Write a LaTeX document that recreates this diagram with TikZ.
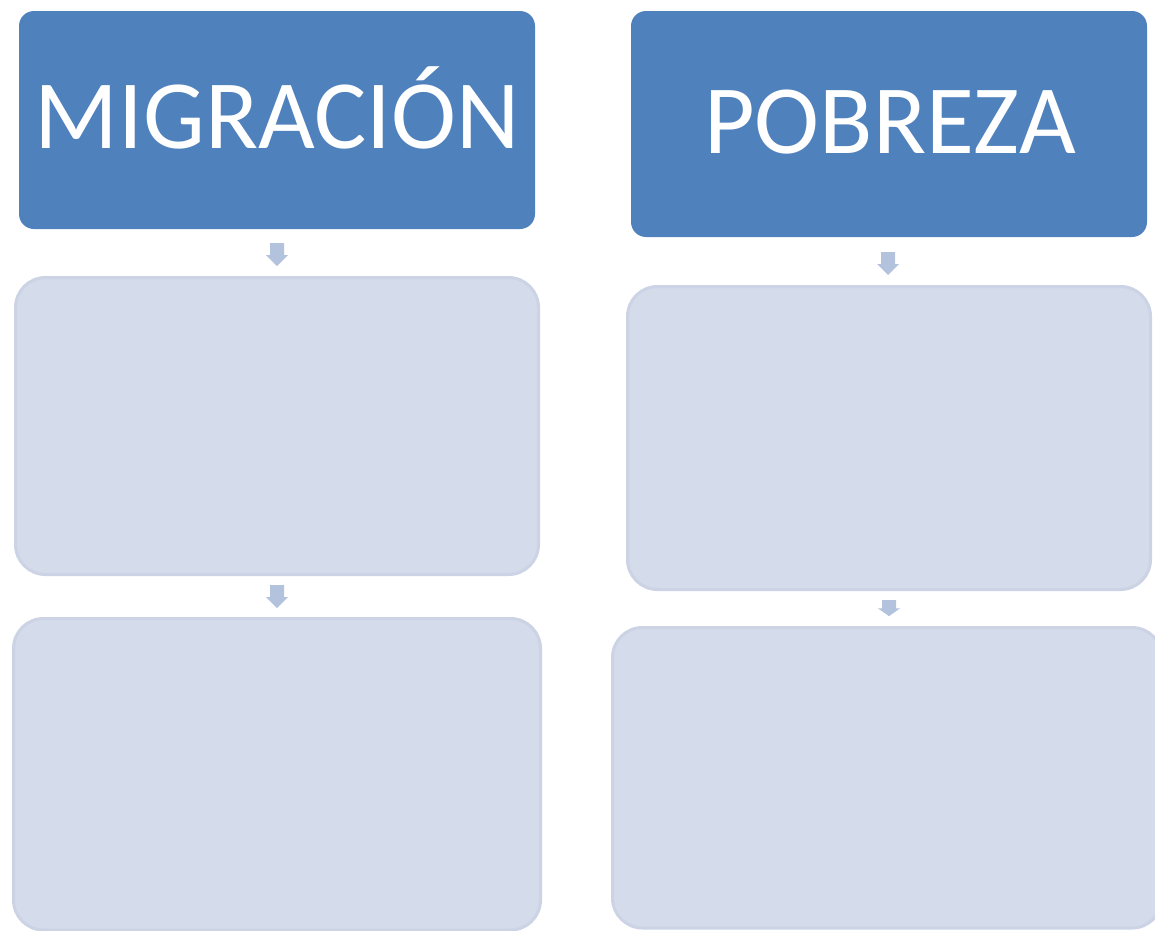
\documentclass[tikz,border=0pt]{standalone}
\usepackage{fontspec}
\setmainfont{Carlito}
\definecolor{topblue}{HTML}{4F81BD}
\definecolor{lightfill}{HTML}{D4DBEA}
\definecolor{lightline}{HTML}{CBD3E5}
\definecolor{arrowfill}{HTML}{B3C3DE}
\tikzset{
  x=1pt, y=-1pt,
  headbox/.style={fill=topblue, draw=none, rounded corners=15pt, inner sep=0pt},
  subbox/.style={fill=lightfill, draw=lightline, line width=3pt, rounded corners=30pt, inner sep=0pt},
  headtext/.style={text=white, font=\fontsize{98}{98}\selectfont, inner sep=0pt, anchor=base},
  pics/downarrow/.style={code={
    \fill[arrowfill] (-7,0) -- (7,0) -- (7,12) -- (11,12) -- (0,23) -- (-11,12) -- (-7,12) -- cycle;
  }}
}
\begin{document}
\begin{tikzpicture}
\useasboundingbox (0,0) rectangle (1155,930);
% headers
\path[headbox] (19,11) rectangle (535,229);
\node[headtext] (migr) at (277,148) {MIGRACIÓN};
\path[headbox] (631,11) rectangle (1147,237);
\node[headtext] (pobr) at (890,153) {POBREZA};
% sub boxes
\draw[subbox] (15.5,277.5) rectangle (538.5,574.5);
\draw[subbox] (13.5,618.5) rectangle (540.5,930);
\draw[subbox] (627.5,286.5) rectangle (1150.5,589.5);
\draw[subbox] (612.5,627.5) rectangle (1162,928);
% arrows
\coordinate (a1) at (277,243);
\coordinate (a2) at (277,585);
\coordinate (a3) at (888,252);
\coordinate (a4) at (889,600);
\pic at (a1) {downarrow};
\pic at (a2) {downarrow};
\pic at (a3) {downarrow};
\pic[yscale=0.7] at (a4) {downarrow};
\end{tikzpicture}
\end{document}
